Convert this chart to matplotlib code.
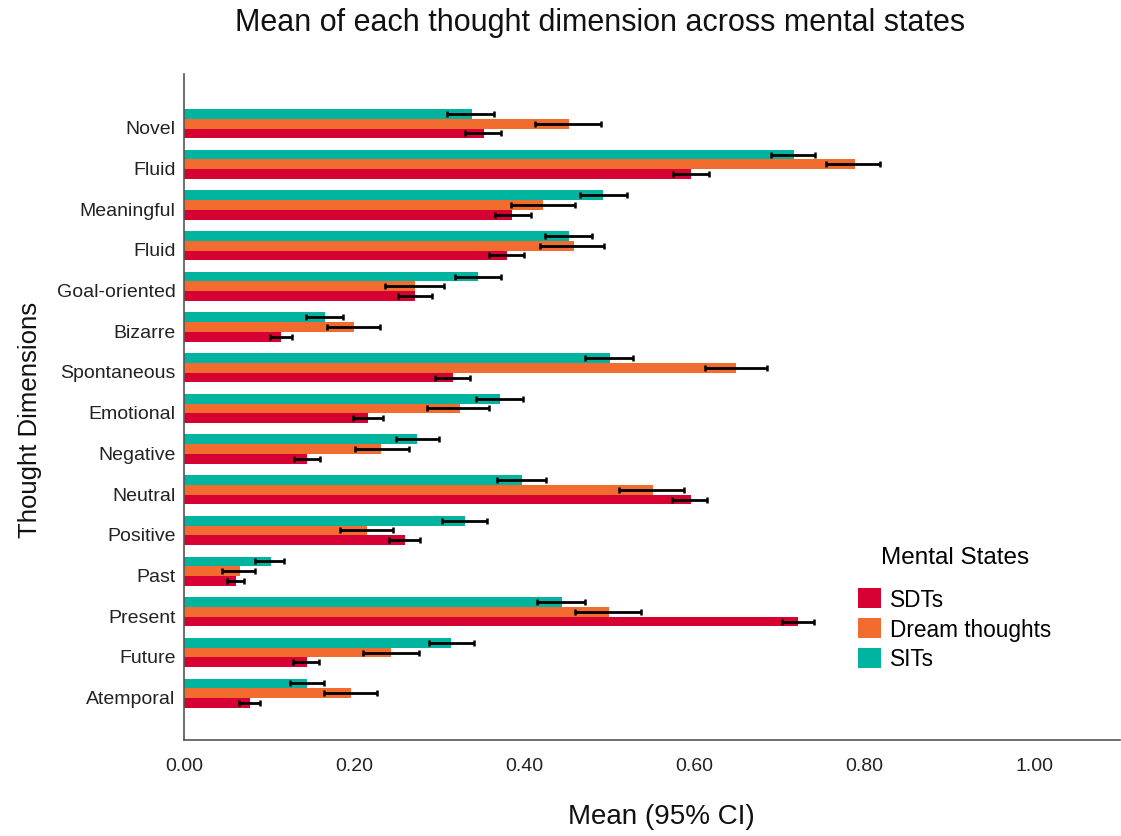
import matplotlib
matplotlib.use("Agg")
import matplotlib.pyplot as plt
import numpy as np

plt.rcParams["font.family"] = ["Liberation Sans", "DejaVu Sans"]

# ── Données : moyenne et IC 95 % par dimension de pensée ──────────────────────
dimensions = ["Novel", "Fluid", "Meaningful", "Fluid", "Goal-oriented", "Bizarre",
              "Spontaneous", "Emotional", "Negative", "Neutral", "Positive",
              "Past", "Present", "Future", "Atemporal"]

sdt_mean = [0.352, 0.596, 0.386, 0.380, 0.272, 0.114, 0.316, 0.216, 0.145, 0.596,
            0.260, 0.061, 0.722, 0.144, 0.078]
sdt_lo = [0.330, 0.575, 0.366, 0.359, 0.251, 0.101, 0.295, 0.199, 0.129, 0.573,
          0.241, 0.050, 0.703, 0.128, 0.065]
sdt_hi = [0.372, 0.617, 0.408, 0.400, 0.291, 0.127, 0.336, 0.234, 0.160, 0.615,
          0.277, 0.070, 0.740, 0.159, 0.089]

dream_mean = [0.453, 0.788, 0.422, 0.458, 0.271, 0.200, 0.649, 0.324, 0.232, 0.551,
              0.215, 0.066, 0.500, 0.243, 0.196]
dream_lo = [0.413, 0.754, 0.384, 0.418, 0.236, 0.168, 0.612, 0.286, 0.201, 0.511,
            0.183, 0.045, 0.460, 0.210, 0.164]
dream_hi = [0.490, 0.818, 0.460, 0.494, 0.305, 0.230, 0.685, 0.359, 0.265, 0.588,
            0.246, 0.084, 0.537, 0.276, 0.227]

sit_mean = [0.338, 0.717, 0.493, 0.453, 0.346, 0.166, 0.501, 0.371, 0.274, 0.397,
            0.330, 0.102, 0.444, 0.314, 0.145]
sit_lo = [0.309, 0.690, 0.465, 0.424, 0.318, 0.143, 0.471, 0.343, 0.249, 0.368,
          0.303, 0.084, 0.415, 0.288, 0.124]
sit_hi = [0.364, 0.742, 0.521, 0.480, 0.373, 0.187, 0.528, 0.398, 0.300, 0.425,
          0.356, 0.118, 0.471, 0.341, 0.165]

x_ticks = [0.0, 0.2, 0.4, 0.6, 0.8, 1.0]

# ── Figure ────────────────────────────────────────────────────────────────────
fig = plt.figure(figsize=(11.21, 8.37), dpi=100)
fig.patch.set_facecolor("white")
ax = fig.add_axes([184 / 1121, 1 - 741 / 837, (1120 - 184) / 1121, (741 - 75) / 837])

y = np.arange(len(dimensions))
h = 0.24
series = [
    ("SITs", sit_mean, sit_lo, sit_hi, "#00B4A0", -0.32),
    ("Dream thoughts", dream_mean, dream_lo, dream_hi, "#F26B2F", -0.08),
    ("SDTs", sdt_mean, sdt_lo, sdt_hi, "#D70033", 0.16),
]

handles = {}
for name, mean, lo, hi, color, off in series:
    mean = np.array(mean)
    err = [mean - np.array(lo), np.array(hi) - mean]
    bars = ax.barh(y + off, mean, height=h, color=color, edgecolor="none", zorder=2)
    ax.errorbar(mean, y + off, xerr=err, fmt="none", ecolor="black",
                elinewidth=2.0, capsize=2.2, capthick=1.8, zorder=3)
    handles[name] = bars

ax.set_ylim(15.07, -1.30)
ax.set_xlim(0, 1.1)
ax.set_yticks(y)
ax.set_yticklabels(dimensions)
ax.set_xticks(x_ticks)
ax.set_xticklabels([f"{v:.2f}" for v in x_ticks])
ax.tick_params(axis="both", length=0, labelsize=14, colors="#222222")
ax.tick_params(axis="x", pad=12)
ax.tick_params(axis="y", pad=6)

for side in ["top", "right"]:
    ax.spines[side].set_visible(False)
for side in ["left", "bottom"]:
    ax.spines[side].set_color("#555555")
    ax.spines[side].set_linewidth(1.2)

# ── Textes ────────────────────────────────────────────────────────────────────
fig.text(600 / 1121, 1 - 23 / 837, "Mean of each thought dimension across mental states",
         ha="center", va="center", fontsize=22, color="#111111")
fig.text(661 / 1121, 1 - 817 / 837, "Mean (95% CI)",
         ha="center", va="center", fontsize=20, color="#111111")
fig.text(30 / 1121, 1 - 420 / 837, "Thought Dimensions", rotation=90,
         ha="center", va="center", fontsize=18.5, color="#111111")

leg = ax.legend([handles["SDTs"], handles["Dream thoughts"], handles["SITs"]],
                ["SDTs", "Dream thoughts", "SITs"],
                title="Mental States", loc="upper left",
                bbox_to_anchor=(838 / 1121, 1 - 527 / 837),
                bbox_transform=fig.transFigure, frameon=False,
                fontsize=16.3, title_fontsize=17.5,
                handlelength=1.0, handleheight=1.0, handletextpad=0.4,
                labelspacing=0.3)
leg._legend_box.sep = 14

fig.savefig("out.png", dpi=100, facecolor="white")
plt.close(fig)
